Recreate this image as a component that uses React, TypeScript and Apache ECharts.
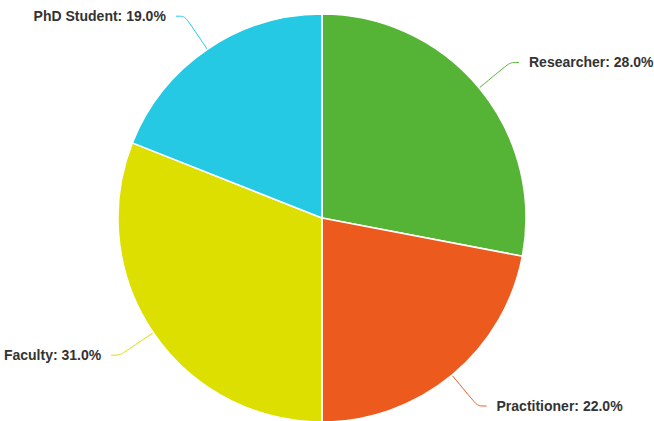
import React, { useEffect, useRef } from "react";
import * as echarts from "echarts";

const categories = ["Researcher", "Practitioner", "Faculty", "PhD Student"];
const values = [28.0, 22.0, 31.0, 19.0];
const colors = ["#55b435", "#ec5a1e", "#dcdf00", "#26c9e3"];

export default function App() {
  const ref = useRef<HTMLDivElement>(null);
  useEffect(() => {
    if (!ref.current) return;
    const chart = echarts.init(ref.current, undefined, { renderer: "svg" });
    const total = values.reduce((a, b) => a + b, 0);
    chart.setOption({
      animation: false,
      series: [
        {
          type: "pie",
          center: [322, 218],
          radius: 204,
          startAngle: 90,
          clockwise: true,
          avoidLabelOverlap: false,
          data: categories.map((c, i) => ({
            name: c,
            value: values[i],
            itemStyle: { color: colors[i] },
          })),
          itemStyle: { borderColor: "#ffffff", borderWidth: 1.5 },
          label: {
            show: true,
            formatter: (p: any) => `${p.name}: ${((p.value / total) * 100).toFixed(1)}%`,
            color: "#333333",
            fontWeight: "bold",
            fontSize: 14,
            fontFamily: "Liberation Sans, Arial, sans-serif",
            distanceToLabelLine: 10,
          },
          labelLine: {
            show: true,
            smooth: 0.3,
            length: 40,
            length2: 9,
            lineStyle: { width: 1 },
          },
        },
      ],
    });
    return () => chart.dispose();
  }, []);
  return (
    <div
      ref={ref}
      style={{ position: "fixed", left: 0, top: 0, width: 654, height: 421, background: "#fff" }}
    />
  );
}
